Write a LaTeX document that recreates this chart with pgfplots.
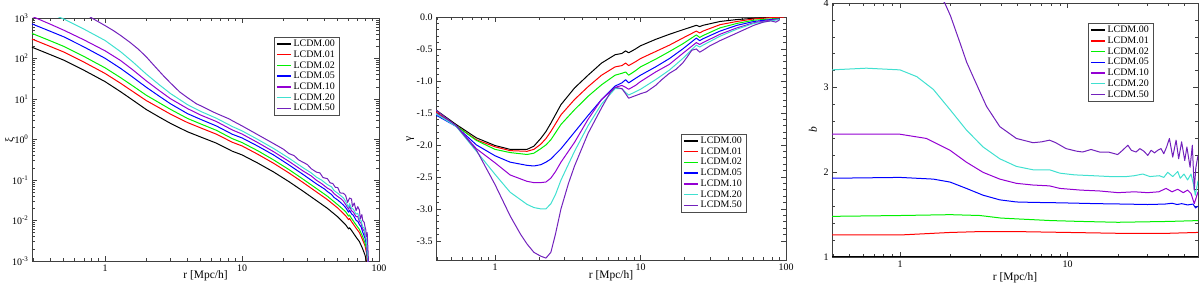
\documentclass[border=0pt]{standalone}
\usepackage{fontspec}
\setmainfont{Liberation Serif}
\usepackage{pgfplots}
\pgfplotsset{compat=1.18}
\definecolor{cRed}{RGB}{255,0,0}
\definecolor{cGreen}{RGB}{0,240,0}
\definecolor{cBlue}{RGB}{0,0,255}
\definecolor{cViolet}{RGB}{148,0,211}
\definecolor{cTurq}{RGB}{64,224,208}
\definecolor{cIndigo}{RGB}{114,33,188}
\pgfplotsset{
    scale only axis, clip=true,
    axis line style={black!75, line width=0.8bp},
    every tick/.style={black!75, line width=0.6bp},
    major tick length=5bp, minor tick length=2.8bp,
    tick align=inside,
    tick label style={font=\fontsize{10}{12}\selectfont},
    label style={font=\fontsize{11.5}{13}\selectfont},
    every axis plot/.append style={line width=1bp, no markers, line join=round},
    legend cell align=left,
    legend image code/.code={\draw[#1, line width=1.5bp] (0bp,0bp) -- (14bp,0bp);},
    legend style={draw=black!70, fill=white,
      font=\fontsize{10}{10}\selectfont, inner xsep=2bp, inner ysep=1.5bp,
      row sep=0pt, nodes={inner xsep=2bp, inner ysep=1.3bp}, anchor=north west},
}
\begin{document}
\begin{tikzpicture}
\useasboundingbox (0,0) rectangle (1200bp,285bp);
% ---------------- left: xi ----------------
\begin{axis}[at={(32bp,24bp)}, anchor=south west, width=347bp, height=243bp,
  xmode=log, ymode=log,
  xtick={1,10,100}, xticklabels={1,10,100},
  xlabel={r [Mpc/h]},
  xlabel style={at={(axis description cs:0.5,-0.062)}, anchor=center},
  ylabel style={at={(axis description cs:-0.063,0.5)}, anchor=center},
  xmin=0.293, xmax=100, ymin=1e-3, ymax=1e3,
  minor xtick={0.3,0.4,0.5,0.6,0.7,0.8,0.9,2,3,4,5,6,7,8,9,20,30,40,50,60,70,80,90},
  ytick={1e-3,1e-2,1e-1,1,10,100,1000},
  yticklabels={10\textsuperscript{-3},10\textsuperscript{-2},10\textsuperscript{-1},10\textsuperscript{0},10\textsuperscript{1},10\textsuperscript{2},10\textsuperscript{3}},
  minor ytick={0.002,0.003,0.004,0.005,0.006,0.007,0.008,0.009,0.02,0.03,0.04,0.05,0.06,0.07,0.08,0.09,0.2,0.3,0.4,0.5,0.6,0.7,0.8,0.9,2,3,4,5,6,7,8,9,20,30,40,50,60,70,80,90,200,300,400,500,600,700,800,900},
  ylabel={ξ},
  legend style={at={(0.697,0.922)}}]
\addplot[black] coordinates {(0.293,190) (0.4,124) (0.5,91) (0.7,51.5) (1.0,26.9) (1.3,15.1) (1.6,9.3) (2.0,5.50) (2.5,3.55) (3.0,2.51) (4.0,1.55) (5.0,1.15) (6.5,0.813) (8.5,0.513) (10,0.417) (13,0.263) (17,0.158) (22,0.0912) (28,0.0525) (35,0.0309) (42,0.0200) (50,0.0123) (57,0.0079) (60,0.0062) (61,0.0066) (63,0.0057) (68,0.0039) (72,0.0030) (76,0.0020) (79,0.00141) (81,0.00100) (82.5,0.0005)};
\addlegendentry{LCDM.00}
\addplot[cRed] coordinates {(0.293,302) (0.4,197) (0.5,144.5) (0.7,81.8) (1.0,42.8) (1.3,24.4) (1.6,15.2) (2.0,9.15) (2.5,6.00) (3.0,4.24) (4.0,2.62) (5.0,1.93) (6.5,1.353) (8.5,0.854) (10,0.694) (13,0.434) (17,0.259) (22,0.1494) (28,0.0860) (35,0.0506) (42,0.0328) (50,0.0203) (57,0.0132) (60,0.0105) (61,0.0112) (63,0.0094) (68,0.0065) (72,0.0050) (76,0.0033) (79,0.0024) (81,0.0016) (82.5,0.0008)};
\addlegendentry{LCDM.01}
\addplot[cGreen] coordinates {(0.293,416) (0.4,272) (0.5,199) (0.7,112.7) (1.0,58.9) (1.3,33.6) (1.6,20.9) (2.0,12.4) (2.5,7.99) (3.0,5.57) (4.0,3.31) (5.0,2.42) (6.5,1.686) (8.5,1.049) (10,0.841) (13,0.530) (17,0.314) (22,0.181) (28,0.104) (35,0.0614) (42,0.0398) (50,0.0245) (55,0.0185) (57,0.0166) (60,0.0128) (61,0.0136) (63,0.0113) (68,0.0078) (72,0.0060) (76,0.0040) (79,0.0028) (81,0.0020) (83,0.0008)};
\addlegendentry{LCDM.02}
\addplot[cBlue] coordinates {(0.293,715) (0.4,467) (0.5,343) (0.7,194) (1.0,101.3) (1.3,56.9) (1.6,34.3) (2.0,19.5) (2.5,11.6) (3.0,7.64) (4.0,4.35) (5.0,3.13) (6.5,2.16) (8.5,1.346) (10,1.094) (13,0.690) (17,0.415) (22,0.236) (28,0.136) (35,0.080) (40,0.060) (42,0.052) (45,0.044) (47,0.037) (50,0.032) (53,0.027) (55,0.024) (57,0.021) (60,0.016) (61,0.018) (63,0.0146) (65,0.0135) (68,0.0101) (70,0.0095) (72,0.0079) (74,0.0070) (76,0.0052) (79,0.0037) (81,0.0026) (83,0.0008)};
\addlegendentry{LCDM.05}
\addplot[cViolet] coordinates {(0.293,1100) (0.4,700) (0.5,500) (0.7,290) (1.0,155) (1.3,89) (1.6,52) (2.0,28.1) (2.5,15.95) (3.0,10.2) (4.0,5.8) (5.0,4.0) (6.5,2.78) (8.5,1.718) (10,1.366) (13,0.843) (17,0.500) (22,0.289) (28,0.166) (32,0.126) (35,0.098) (38,0.082) (42,0.063) (45,0.055) (47,0.046) (50,0.039) (53,0.034) (55,0.030) (57,0.025) (60,0.019) (61,0.023) (63,0.0174) (65,0.016) (68,0.0125) (70,0.0125) (72,0.0094) (74,0.0085) (76,0.0062) (78,0.0055) (79,0.0043) (81,0.0030) (83,0.0008)};
\addlegendentry{LCDM.10}
\addplot[cTurq] coordinates {(0.293,1970) (0.4,1285) (0.5,944) (0.7,534) (1.0,279) (1.3,147) (1.6,81.5) (2.0,41.3) (2.5,22.2) (3.0,13.7) (4.0,7.24) (5.0,4.93) (6.5,3.35) (8.5,2.09) (10,1.635) (13,1.010) (17,0.601) (22,0.347) (28,0.1995) (32,0.150) (35,0.117) (38,0.100) (42,0.077) (45,0.068) (47,0.055) (50,0.047) (53,0.040) (55,0.036) (57,0.030) (60,0.021) (61,0.026) (63,0.020) (65,0.019) (68,0.0144) (70,0.015) (72,0.0106) (74,0.0100) (76,0.0070) (78,0.0065) (79,0.0048) (81,0.0033) (83.5,0.0008)};
\addlegendentry{LCDM.20}
\addplot[cIndigo] coordinates {(0.5,3000) (0.7,1350) (0.8,1000) (1.0,650) (1.15,490) (1.3,370) (1.52,251) (1.75,170) (2.0,110) (2.3,65) (2.66,38) (3.0,25) (3.52,14.8) (4.0,10.8) (4.65,7.6) (5.0,6.8) (6.15,4.8) (6.5,4.4) (8.1,3.2) (8.5,2.9) (10,2.17) (13,1.32) (17,0.793) (20,0.58) (22,0.450) (24,0.40) (26,0.31) (28,0.273) (30,0.24) (32,0.19) (35,0.156) (37,0.15) (39,0.115) (42,0.108) (44,0.085) (46,0.082) (48,0.066) (50,0.065) (52,0.048) (55,0.047) (57,0.042) (59,0.028) (61,0.036) (63,0.034) (64,0.022) (66,0.027) (68,0.0175) (70,0.022) (72,0.018) (73,0.011) (75,0.014) (76,0.010) (78,0.009) (79,0.0071) (80,0.006) (81,0.0040) (82,0.005) (83,0.0020) (84,0.0008)};
\addlegendentry{LCDM.50}
\end{axis}
% ---------------- middle: gamma ----------------
\begin{axis}[at={(436bp,25bp)}, anchor=south west, width=350bp, height=243bp,
  xmode=log,
  xtick={1,10,100}, xticklabels={1,10,100},
  xlabel={r [Mpc/h]},
  xlabel style={at={(axis description cs:0.5,-0.066)}, anchor=center},
  ylabel style={at={(axis description cs:-0.074,0.5)}, anchor=center},
  xmin=0.393, xmax=100, ymin=-3.8, ymax=0,
  minor xtick={0.4,0.5,0.6,0.7,0.8,0.9,2,3,4,5,6,7,8,9,20,30,40,50,60,70,80,90},
  ytick={-3.5,-3,-2.5,-2,-1.5,-1,-0.5,0},
  yticklabels={-3.5,-3.0,-2.5,-2.0,-1.5,-1.0,-0.5,0.0},
  minor y tick num=4,
  ylabel={γ},
  legend style={at={(0.70,0.519)}}]
\addplot[black] coordinates {(0.39,-1.45) (0.54,-1.68) (0.745,-1.89) (1.0,-2.01) (1.27,-2.07) (1.66,-2.07) (1.85,-2.02) (2.06,-1.90) (2.24,-1.79) (2.42,-1.66) (2.84,-1.37) (3.52,-1.11) (4.36,-0.91) (5.4,-0.72) (6.69,-0.59) (7.45,-0.57) (7.9,-0.53) (8.29,-0.56) (9.23,-0.50) (10,-0.45) (12.7,-0.35) (15.8,-0.27) (19.5,-0.20) (24.2,-0.13) (25.5,-0.15) (26.9,-0.13) (35.2,-0.07) (46,-0.04) (60.1,-0.02) (78.6,-0.005) (90,0)};
\addlegendentry{LCDM.00}
\addplot[cRed] coordinates {(0.39,-1.48) (0.54,-1.70) (0.745,-1.92) (1.0,-2.03) (1.27,-2.09) (1.66,-2.10) (1.85,-2.07) (2.06,-1.99) (2.24,-1.90) (2.42,-1.79) (2.84,-1.53) (3.52,-1.29) (4.36,-1.09) (5.4,-0.91) (6.69,-0.78) (7.45,-0.76) (7.9,-0.72) (8.29,-0.76) (9.23,-0.70) (10,-0.65) (12.7,-0.54) (15.8,-0.44) (19.5,-0.33) (24.2,-0.22) (25.5,-0.25) (26.9,-0.22) (35.2,-0.12) (46,-0.07) (60.1,-0.03) (78.6,-0.01) (97,0)};
\addlegendentry{LCDM.01}
\addplot[cGreen] coordinates {(0.39,-1.50) (0.54,-1.70) (0.745,-1.93) (1.0,-2.07) (1.27,-2.12) (1.66,-2.15) (1.85,-2.13) (2.06,-2.06) (2.24,-2.00) (2.42,-1.92) (2.84,-1.68) (3.52,-1.45) (4.36,-1.24) (5.4,-1.06) (6.69,-0.91) (7.45,-0.88) (7.9,-0.86) (8.29,-0.91) (9.23,-0.84) (10,-0.78) (12.7,-0.66) (15.8,-0.54) (19.5,-0.42) (24.2,-0.28) (25.5,-0.32) (26.9,-0.29) (35.2,-0.17) (46,-0.10) (60.1,-0.05) (78.6,-0.03) (90,-0.02)};
\addlegendentry{LCDM.02}
\addplot[cBlue] coordinates {(0.39,-1.53) (0.54,-1.71) (0.745,-2.00) (1.0,-2.17) (1.27,-2.27) (1.66,-2.32) (1.85,-2.33) (2.06,-2.31) (2.24,-2.27) (2.42,-2.22) (2.84,-2.06) (3.52,-1.80) (4.36,-1.54) (5.4,-1.29) (6.69,-1.08) (7.45,-1.03) (7.9,-0.98) (8.29,-1.03) (9.23,-0.96) (10,-0.91) (12.7,-0.78) (15.8,-0.65) (19.5,-0.50) (24.2,-0.33) (25.5,-0.37) (26.9,-0.34) (35.2,-0.22) (46,-0.13) (60.1,-0.07) (78.6,-0.04) (90,-0.03)};
\addlegendentry{LCDM.05}
\addplot[cViolet] coordinates {(0.39,-1.50) (0.54,-1.70) (0.745,-2.06) (1.0,-2.28) (1.27,-2.47) (1.66,-2.57) (1.85,-2.59) (2.06,-2.59) (2.24,-2.58) (2.42,-2.52) (2.6,-2.42) (2.84,-2.27) (3.52,-1.96) (4.36,-1.60) (5.4,-1.29) (6.69,-1.10) (7.45,-1.07) (7.9,-1.10) (8.29,-1.13) (9.23,-1.07) (10,-1.01) (12.7,-0.86) (15.8,-0.74) (19.5,-0.57) (24.2,-0.40) (25.5,-0.43) (26.9,-0.40) (35.2,-0.27) (46,-0.17) (60.1,-0.09) (78.6,-0.05) (90,-0.03)};
\addlegendentry{LCDM.10}
\addplot[cTurq] coordinates {(0.39,-1.51) (0.54,-1.71) (0.745,-2.10) (1.0,-2.46) (1.27,-2.74) (1.66,-2.93) (1.85,-2.98) (2.06,-3.00) (2.24,-3.00) (2.42,-2.92) (2.6,-2.78) (2.84,-2.55) (3.52,-2.10) (4.36,-1.70) (5.4,-1.36) (6.69,-1.12) (7.45,-1.12) (7.9,-1.18) (8.29,-1.22) (9.23,-1.17) (10,-1.13) (12.7,-0.98) (15.8,-0.83) (19.5,-0.65) (24.2,-0.44) (25.5,-0.47) (26.9,-0.44) (35.2,-0.30) (46,-0.19) (60.1,-0.10) (78.6,-0.06) (90,-0.04)};
\addlegendentry{LCDM.20}
\addplot[cIndigo] coordinates {(0.39,-1.45) (0.54,-1.70) (0.745,-2.08) (1.0,-2.62) (1.27,-3.11) (1.5,-3.40) (1.66,-3.55) (1.85,-3.68) (2.06,-3.74) (2.24,-3.77) (2.42,-3.68) (2.6,-3.40) (2.84,-3.00) (3.2,-2.60) (3.52,-2.33) (4.36,-1.82) (5.4,-1.42) (6.2,-1.18) (6.69,-1.10) (7.45,-1.12) (7.9,-1.20) (8.29,-1.27) (9.23,-1.23) (10,-1.20) (11,-1.17) (12.7,-1.07) (14,-0.98) (15.8,-0.88) (17.5,-0.82) (19.5,-0.72) (21,-0.62) (22.5,-0.52) (24.2,-0.50) (25.5,-0.55) (26.9,-0.52) (30,-0.45) (35.2,-0.37) (46,-0.25) (60.1,-0.13) (70,-0.08) (78.6,-0.06) (85,-0.08) (90,-0.05)};
\addlegendentry{LCDM.50}
\end{axis}
% ---------------- right: bias ----------------
\begin{axis}[at={(832bp,28bp)}, anchor=south west, width=366bp, height=254bp,
  xmode=log,
  xtick={1,10,100}, xticklabels={1,10,100},
  xlabel={r [Mpc/h]},
  xlabel style={at={(axis description cs:0.5,-0.083)}, anchor=center},
  ylabel style={at={(axis description cs:-0.052,0.5)}, anchor=center},
  xmin=0.393, xmax=60, ymin=1, ymax=4,
  minor xtick={0.4,0.5,0.6,0.7,0.8,0.9,2,3,4,5,6,7,8,9,20,30,40,50},
  ytick={1,2,3,4}, yticklabels={1,2,3,4},
  minor y tick num=4,
  ylabel={\textit{b}},
  legend style={at={(0.699,0.921)}}]
\addplot[black, line width=2bp] coordinates {(0.39,1) (60,1)};
\addlegendentry{LCDM.00}
\addplot[cRed] coordinates {(0.39,1.26) (1.0,1.26) (2.0,1.29) (3.0,1.30) (5.0,1.30) (10,1.29) (20,1.28) (40,1.28) (60,1.29)};
\addlegendentry{LCDM.01}
\addplot[cGreen] coordinates {(0.39,1.48) (1.0,1.49) (2.0,1.50) (3.0,1.49) (4.0,1.46) (5.0,1.45) (8,1.43) (12,1.42) (20,1.41) (40,1.42) (60,1.43)};
\addlegendentry{LCDM.02}
\addplot[cBlue] coordinates {(0.39,1.93) (1.0,1.94) (1.58,1.92) (1.99,1.885) (2.49,1.81) (3.13,1.73) (3.94,1.675) (4.95,1.65) (6.22,1.645) (9,1.64) (15,1.63) (22,1.625) (30,1.62) (38,1.625) (42,1.635) (45,1.62) (48,1.63) (52,1.615) (56,1.625) (58,1.58) (60,1.60)};
\addlegendentry{LCDM.05}
\addplot[cViolet] coordinates {(0.39,2.45) (1.0,2.45) (1.44,2.40) (1.99,2.26) (2.49,2.12) (3.13,2.00) (3.94,1.92) (4.95,1.87) (6.22,1.85) (7.8,1.84) (9.0,1.81) (12,1.79) (15.5,1.78) (20,1.76) (25,1.77) (30,1.76) (35,1.77) (38.7,1.81) (42,1.77) (45.4,1.80) (49,1.76) (52,1.79) (54.5,1.75) (57,1.63) (60,1.77)};
\addlegendentry{LCDM.10}
\addplot[cTurq] coordinates {(0.39,3.21) (0.63,3.23) (1.0,3.21) (1.26,3.13) (1.58,2.98) (1.99,2.74) (2.49,2.50) (3.13,2.30) (3.94,2.16) (4.95,2.07) (6.22,2.03) (7.8,2.03) (9.0,1.99) (11,1.97) (14.2,1.96) (18,1.95) (22.4,1.95) (25,1.96) (28.1,1.98) (31,1.95) (35.3,1.96) (37.5,1.94) (39.6,2.00) (42.4,1.95) (45.4,2.01) (47,1.93) (49.5,1.98) (52,1.91) (54.5,1.98) (56.5,1.85) (57.8,1.73) (60,1.90)};
\addlegendentry{LCDM.20}
\addplot[cIndigo] coordinates {(1.6,4.15) (1.85,4.0) (2.0,3.85) (2.28,3.53) (2.5,3.30) (2.73,3.13) (3.0,2.95) (3.28,2.78) (3.94,2.54) (4.95,2.40) (6.22,2.35) (7.0,2.36) (7.8,2.38) (8.5,2.35) (9.8,2.28) (11.3,2.25) (12.3,2.24) (13.8,2.27) (15.5,2.24) (17.5,2.24) (19.9,2.21) (21,2.25) (22.9,2.32) (24,2.26) (25.6,2.24) (27,2.28) (28.5,2.25) (30.1,2.20) (31.5,2.26) (33,2.23) (34.5,2.26) (36.1,2.28) (37.5,2.22) (39,2.30) (40.5,2.40) (42.4,2.18) (44.4,2.38) (46,2.16) (47.9,2.36) (50,2.14) (51.5,2.30) (53.8,2.06) (55.5,2.32) (57,1.79) (58.2,2.05) (60,2.2)};
\addlegendentry{LCDM.50}
\end{axis}
\end{tikzpicture}
\end{document}
